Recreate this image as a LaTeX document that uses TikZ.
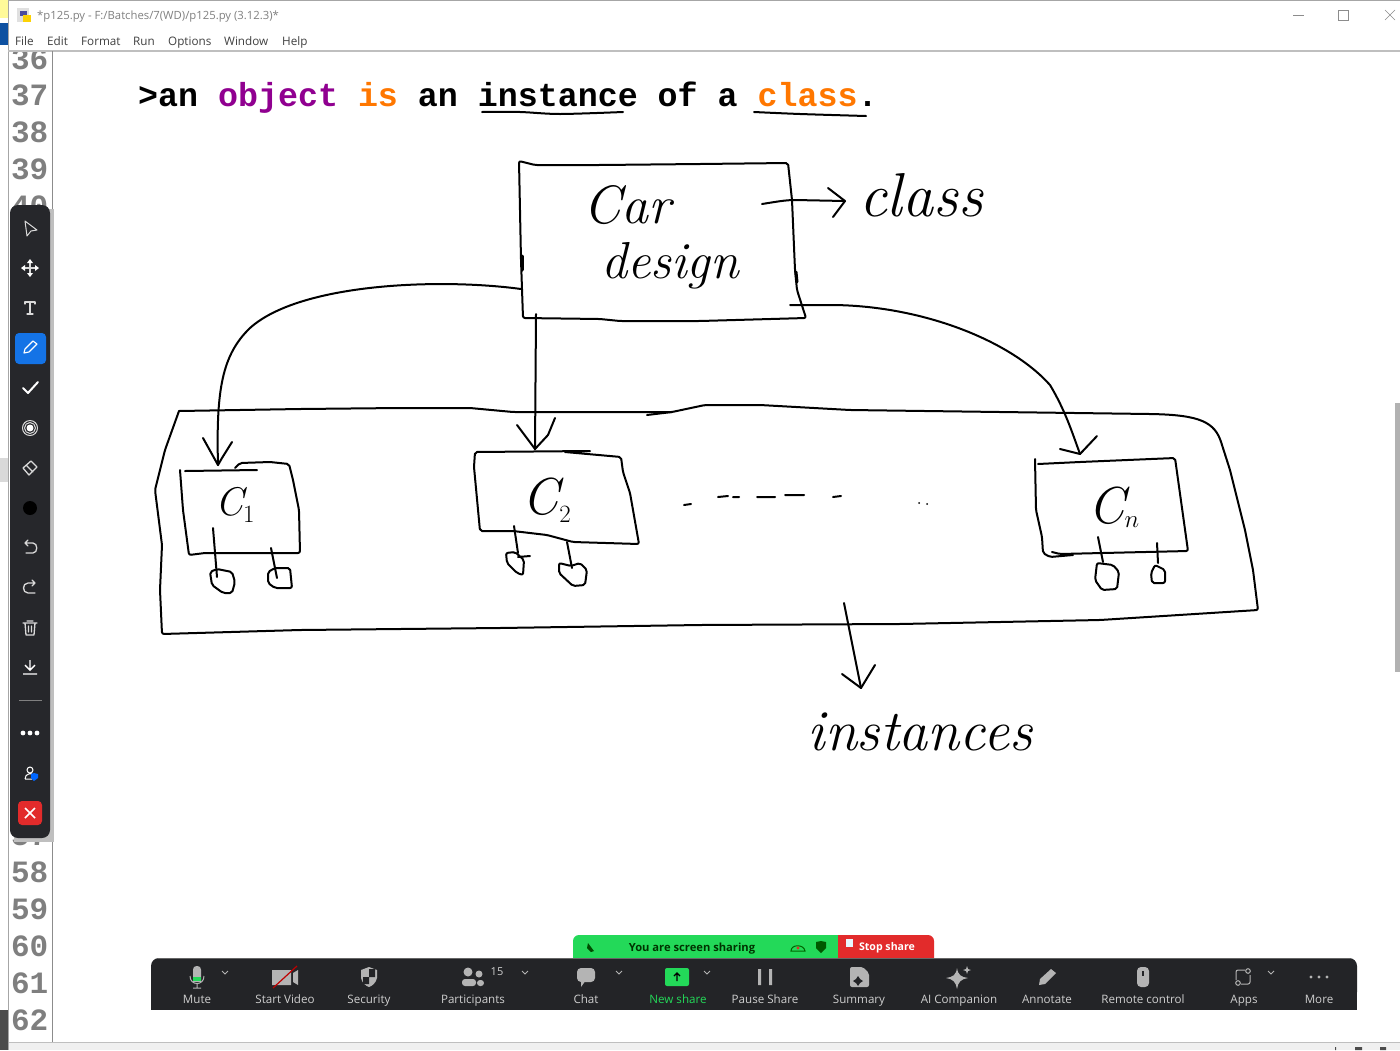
\documentclass[tikz,border=0pt]{standalone}
\usepackage{fontspec}
\setmainfont{Open Sans}
\newfontfamily\monofnt{Liberation Mono}
\newfontfamily\handfnt{Latin Modern Roman}
\definecolor{barbg}{HTML}{232427}
\definecolor{sidebg}{HTML}{26272B}
\definecolor{barfg}{HTML}{B4B4B4}
\definecolor{lblfg}{HTML}{CFCFCF}
\definecolor{shgreen}{HTML}{23D959}
\definecolor{shred}{HTML}{E22B2B}
\definecolor{blue1}{HTML}{1473E6}
\definecolor{kwpurple}{HTML}{900090}
\definecolor{kworange}{HTML}{FF7700}
\definecolor{numgray}{HTML}{7F7F7F}
\tikzset{
  ink/.style={line width=2pt,black,line join=round,line cap=round},
  inkbox/.style={ink,rounded corners=2pt},
  ghead/.style={ink,sharp corners},
  handlbl/.style={inner sep=0pt,font=\handfnt\itshape},
  lnum/.style={anchor=base east,inner sep=0pt,font=\monofnt\bfseries\fontsize{31}{31}\selectfont,text=numgray},
  menu/.style={anchor=base west,inner sep=0pt,font=\fontsize{11.7}{12}\selectfont,text=black!75},
  barlbl/.style={anchor=base,inner sep=0pt,font=\fontsize{11.6}{12}\selectfont,text=lblfg},
  sideic/.style={draw=white!85!black,line width=1.3pt,line join=round,line cap=round},
  baric/.style={fill=barfg,draw=none},
  chev/.style={draw=barfg,line width=1pt},
}
\begin{document}
\begin{tikzpicture}[x=1pt,y=-1pt]
\useasboundingbox (0,0) rectangle (1400,1050);
\fill[white] (0,0) rectangle (1400,1050);
% window surroundings
\fill[yellow!40!white] (0,0) rectangle (8,18);
\fill[blue1!70!black] (0,23) rectangle (8,45);
\fill[black!15] (0,458) rectangle (8,482);
\fill[black!70] (0,1010) rectangle (8,1050);
\draw[black!35] (8,0) -- (8,1050);
\draw[black!35] (8,0.5) -- (1400,0.5);
\draw[black!25,line width=1.5pt] (8,51) -- (1400,51);
\draw[black!45] (52,51) -- (52,1050);
\fill[black!6] (9,1042) rectangle (1400,1050);
\draw[black!25] (9,1042) -- (1400,1042);
\fill[black!30] (1395,403) rectangle (1400,672);
\fill[black!70] (1335,1047) rectangle (1336,1050) (1355,1047) rectangle (1362,1050) (1380,1047) rectangle (1386,1050);
% title bar icon
\fill[black!12] (17,8) rectangle (29,22);
\fill[blue!45!black!70] (20,11) rectangle (27,16);
\fill[yellow!70!orange] (23,15) rectangle (31,22);
\node[anchor=base west,inner sep=0pt,font=\fontsize{11.3}{12}\selectfont,text=black!50] (title) at (37,19) {*p125.py - F:/Batches/7(WD)/p125.py (3.12.3)*};
\node[menu] (mfile) at (15,45) {File};
\node[menu] (medit) at (47,45) {Edit};
\node[menu] (mformat) at (81,45) {Format};
\node[menu] (mrun) at (133,45) {Run};
\node[menu] (moptions) at (168,45) {Options};
\node[menu] (mwindow) at (224,45) {Window};
\node[menu] (mhelp) at (282,45) {Help};
\draw[black!45] (1293,15) -- (1304,15);
\draw[black!45] (1338,10) rectangle (1348,20);
\draw[black!45] (1385,10) -- (1395,20) (1395,10) -- (1385,20);
% line numbers
\begin{scope}
\clip (9,52) rectangle (52,1042);
\node[lnum] (n36) at (48.5,69) {36};
\node[lnum] (n37) at (48.5,105) {37};
\node[lnum] (n38) at (48.5,142) {38};
\node[lnum] (n39) at (48.5,179) {39};
\node[lnum] (n40) at (48.5,216) {40};
\node[lnum] (n57) at (48.5,845) {57};
\node[lnum] (n58) at (48.5,882) {58};
\node[lnum] (n59) at (48.5,919) {59};
\node[lnum] (n60) at (48.5,956) {60};
\node[lnum] (n61) at (48.5,993) {61};
\node[lnum] (n62) at (48.5,1030) {62};
\end{scope}
% code line
\node[anchor=base west,inner sep=0pt,font=\monofnt\bfseries\fontsize{33.3}{34}\selectfont] (code) at (138,106)
 {>an \textcolor{kwpurple}{object} \textcolor{kworange}{is} an instance of a \textcolor{kworange}{class}.};
\draw[ink] plot[smooth,tension=.5] coordinates {(482,112) (520,112) (560,114) (623,112)};
\draw[ink] plot[smooth,tension=.5] coordinates {(754,112) (800,114) (866,116)};

% ---- class box
\draw[inkbox] (519,161) -- (535,165) -- (600,165) -- (700,164) -- (788,163) -- (792,200) -- (795,270) -- (797,290) -- (806,318) -- (700,321) -- (620,321) -- (600,319) -- (523,318) -- (521,260) -- cycle;
\draw[ink,line width=3pt] (522,256) -- (522,270);
\draw[ink,line width=3pt] (796,272) -- (797,282);
\node[handlbl,font=\handfnt\itshape\fontsize{54}{54}\selectfont] (car) at (627,205) {Car};
\node[handlbl,font=\handfnt\itshape\fontsize{52}{52}\selectfont] (design) at (670,266) {design};
\node[handlbl,font=\handfnt\itshape\fontsize{62}{62}\selectfont] (classlbl) at (921,195) {class};
\coordinate (clsS) at (762,204);
\coordinate (clsT) at (845,201);
\draw[ink] (clsS) .. controls (775,202) and (785,200) .. (795,200) -- (clsT);
\draw[ghead] (828,188) -- (clsT) -- (833,217);

% ---- container
\draw[inkbox] (179,411) -- (300,409) -- (400,408) -- (470,408) -- (513,412) -- (672,412);
\draw[inkbox] (647,415) -- (672,412) -- (705,405) -- (760,405) -- (850,410) -- (1000,412) -- (1150,414) .. controls (1200,415) and (1215,422) .. (1222,445) -- (1230,470) -- (1245,530) -- (1253,570) -- (1258,610) -- (1100,620) -- (900,624) -- (700,625) -- (500,628) -- (300,630) -- (162,634) -- (160,590) -- (162,545) -- (155,490) -- (165,450) -- (179,411);

% ---- instance C1
\draw[inkbox] (180,470) -- (183,510) -- (189,555) -- (205,553) -- (300,553) -- (299,510) -- (293,480) -- (289,464) -- (270,462) -- (240,463) -- (235,468);
\draw[ink] (185,471) -- (257,470);
\node[handlbl,font=\handfnt\itshape\fontsize{40}{40}\selectfont] (c1) at (235,505) {C$_1$};
\coordinate (c1T) at (218,465);
% ---- instance C2
\draw[inkbox] (590,451) -- (475,452) -- (474,467) -- (480,531) -- (513,531) -- (547,535) -- (573,542) -- (639,544) -- (630,493) -- (623,472) -- (621,457) -- (565,452);
\node[handlbl,font=\handfnt\itshape\fontsize{52}{52}\selectfont] (c2) at (547,500) {C$_2$};
\coordinate (c2T) at (535,449);
% ---- instance Cn
\draw[inkbox] (1035,459) -- (1036,510) -- (1042,537) -- (1043,553) -- (1050,557) -- (1073,555);
\draw[inkbox] (1052,552) -- (1060,554) -- (1188,551) -- (1175,458) -- (1080,462) -- (1038,464);
\node[handlbl,font=\handfnt\itshape\fontsize{52}{52}\selectfont] (cn) at (1114,507) {C$_n$};
\coordinate (cnT) at (1080,454);

% ---- connectors class -> instances
\coordinate (carL) at (521,289);
\coordinate (carB) at (536,314);
\coordinate (carR) at (790,305);
\draw[ink] (carL) .. controls (440,278) and (300,283) .. (250,328) .. controls (222,355) and (216,390) .. (c1T);
\draw[ghead] (203,438) -- (c1T) -- (222,458) -- (232,442);
\draw[ink] (carB) -- (c2T);
\draw[ghead] (517,425) -- (c2T) -- (548,435) -- (555,418);
\draw[ink] (carR) -- (830,305) .. controls (920,305) and (1010,340) .. (1050,385) .. controls (1065,410) and (1072,432) .. (cnT);
\draw[ghead] (1060,449) -- (cnT) -- (1097,436);

% ---- member stubs and circles
\draw[ink] (213,528) -- (217,577);
\draw[inkbox] (210,572) -- (217,569) -- (232,572) -- (235,582) -- (232,593) -- (223,593) -- (212,585) -- cycle;
\draw[ink] (271,548) -- (277,578);
\draw[inkbox] (268,572) -- (275,568) -- (290,568) -- (292,588) -- (275,588) -- (268,583) -- cycle;
\draw[ink] (514,526) -- (518,553) (530,556) -- (518,557);
\draw[inkbox] (506,553) -- (515,552) -- (524,560) -- (523,575) -- (517,573) -- (507,563) -- cycle;
\draw[ink] (567,542) -- (572,568);
\draw[inkbox] (559,563) -- (571,566) -- (580,563) -- (587,570) -- (585,585) -- (573,586) -- (559,573) -- cycle;
\draw[ink] (1098,537) -- (1103,562);
\draw[inkbox] (1097,563) -- (1113,565) -- (1119,572) -- (1117,589) -- (1102,590) -- (1095,580) -- cycle;
\draw[ink] (1157,543) -- (1158,563);
\draw[inkbox] (1155,565) -- (1165,570) -- (1165,583) -- (1152,583) -- (1151,573) -- cycle;

% ---- dashes
\draw[ink] (684,505) -- (691,504) (718,497) -- (728,496) (733,497) -- (739,497) (757,497) -- (775,497) (785,495) -- (804,495) (833,497) -- (841,496);
\fill (919,503) circle[radius=1] (927,504) circle[radius=1];

% ---- instances arrow
\coordinate (instS) at (844,603);
\coordinate (instT) at (861,688);
\draw[ink] (instS) -- (instT);
\draw[ghead] (842,674) -- (instT) -- (875,665);
\node[handlbl,font=\handfnt\itshape\fontsize{58}{58}\selectfont] (instlbl) at (920,732) {instances};

% ---- side toolbar
\fill[black!25] (14,209) rectangle (54,842);
\fill[sidebg,rounded corners=8pt] (10,205) rectangle (50,838);
\draw[sideic,line width=1pt] (25,221) -- (37,230) -- (31,231) -- (27,236) -- cycle;
\draw[sideic,line width=2pt] (23,268) -- (37,268) (30,261) -- (30,275);
\fill[white] (30,259) -- (27,263) -- (33,263) -- cycle (30,277) -- (27,273) -- (33,273) -- cycle (21,268) -- (25,265) -- (25,271) -- cycle (39,268) -- (35,265) -- (35,271) -- cycle;
\draw[sideic] (25,304) -- (25,302) -- (35,302) -- (35,304) (30,302) -- (30,314) (27,314) -- (33,314);
\fill[blue1,rounded corners=4pt] (15,333) rectangle (46,364);
\draw[white,line width=1.1pt,line join=round] (24,353) -- (25,349) -- (33,341) -- (37,344) -- (29,352) -- cycle;
\draw[white,line width=2pt,line cap=round,line join=round] (23,388) -- (28,393) -- (38,382);
\draw[sideic,line width=1pt] (30,428) circle[radius=7.5];
\draw[sideic,line width=1pt] (30,428) circle[radius=5.5];
\fill[white] (30,428) circle[radius=3.5];
\draw[sideic] (23,468) -- (31,461) -- (37,467) -- (29,475) -- cycle (26,465) -- (33,472);
\fill[black] (30,508) circle[radius=7];
\draw[sideic] (25,543) -- (33,543) .. controls (38,543) and (38,553) .. (33,553) -- (26,553) (28,540) -- (25,543) -- (28,546);
\draw[sideic] (35,583) -- (28,583) .. controls (22,583) and (22,593) .. (28,593) -- (35,593) (32,580) -- (35,583) -- (32,586);
\draw[sideic] (23,623) -- (37,623) (27,621) -- (33,621) (25,623) -- (26,635) -- (34,635) -- (35,623) (28.5,626) -- (28.5,632) (31.5,626) -- (31.5,632);
\draw[white,line width=1.4pt] (23,674) -- (37,674) (30,660) -- (30,670) (25,665) -- (30,670) -- (35,665);
\draw[black!50] (19,700) -- (42,700);
\fill[white] (23,733) circle[radius=2.4] (30,733) circle[radius=2.4] (37,733) circle[radius=2.4];
\draw[white,line width=1pt] (30,770) circle[radius=3] (25,779) .. controls (25,773) and (32,773) .. (33,775) (25,779) -- (32,779);
\fill[blue!60!cyan] (34,773) -- (38,774) -- (38,778) -- (34,781) -- (31,778) -- (31,774) -- cycle;
\fill[shred,rounded corners=4pt] (18,801) rectangle (42,825);
\draw[white,line width=1.5pt] (25,808) -- (35,818) (35,808) -- (25,818);

% ---- share banner and bottom bar
\fill[shgreen,rounded corners=6pt] (573,935) rectangle (610,975);
\fill[shgreen] (590,935) rectangle (838,958);
\fill[shred,rounded corners=6pt] (900,935) rectangle (934,975);
\fill[shred] (838,935) rectangle (920,958);
\fill[barbg,rounded corners=8pt] (151,958) rectangle (1357,1000);
\fill[barbg] (151,975) rectangle (1357,1010);
\draw[black!60] (158,958) -- (1350,958);
\node[anchor=base,inner sep=0pt,font=\fontsize{11.2}{12}\selectfont\bfseries,text=black!80!green] (sharing) at (692,951) {You are screen sharing};
\node[anchor=base,inner sep=0pt,font=\fontsize{10.6}{12}\selectfont\bfseries,text=white] (stopshare) at (887,950) {Stop share};
\fill[white!90!cyan] (846,939) rectangle (853,947);
\fill[black!70!green] (588,943) -- (591,947) -- (594,951) -- (591,952) -- (587,948) -- cycle;
\draw[black!60!green,line width=1pt] (791,951) .. controls (791,944) and (804,944) .. (805,951) -- cycle;
\fill[shred] (798,948) circle[radius=1.6];
\fill[black!65!green] (816,942) -- (821,941) -- (826,942) -- (826,948) -- (821,953) -- (816,948) -- cycle;
\node[barlbl] (lmute) at (197,1003) {Mute};
\node[barlbl] (lvideo) at (285,1003) {Start Video};
\node[barlbl] (lsec) at (369,1003) {Security};
\node[barlbl] (lpart) at (473,1003) {Participants};
\node[barlbl,font=\fontsize{11}{12}\selectfont] (lfifteen) at (497,975) {15};
\node[barlbl] (lchat) at (586,1003) {Chat};
\node[barlbl,text=shgreen] (lnew) at (678,1003) {New share};
\node[barlbl] (lpause) at (765,1003) {Pause Share};
\node[barlbl] (lsum) at (859,1003) {Summary};
\node[barlbl] (lai) at (959,1003) {AI Companion};
\node[barlbl] (lann) at (1047,1003) {Annotate};
\node[barlbl] (lrem) at (1143,1003) {Remote control};
\node[barlbl] (lapps) at (1244,1003) {Apps};
\node[barlbl] (lmore) at (1319,1003) {More};
% chevrons
\foreach \cx in {225,525,619,707,1271}
  \draw[chev] (\cx-3,971) -- (\cx,974) -- (\cx+3,971);
% mic
\fill[barfg,rounded corners=3.5pt] (193,966) rectangle (201,985);
\fill[barbg] (190,982) rectangle (204,990);
\fill[shgreen] (193,977) rectangle (201,981);
\draw[barfg,line width=1pt] (190,976) .. controls (190,986) and (204,986) .. (204,976) (197,984) -- (197,988) (193,988) -- (201,988);
% video
\fill[barfg] (272,970) rectangle (291,985) (293,973) -- (298,970) -- (298,985) -- (293,982) -- cycle;
\draw[red!75!black,line width=1.2pt] (273,988) -- (297,966);
% shield
\fill[barfg] (369,967) -- (377,970) -- (377,978) .. controls (376,983) and (372,986) .. (369,987) .. controls (366,986) and (362,983) .. (361,978) -- (361,970) -- cycle;
\fill[barbg] (369,969) rectangle (375,977) (363,977) rectangle (369,984);
% participants
\fill[barfg] (468,972) circle[radius=4.5] (479,974) circle[radius=3.5];
\fill[barfg,rounded corners=3pt] (462,979) rectangle (476,986) (477,980) rectangle (484,986);
% chat
\fill[barfg,rounded corners=4pt] (577,968) rectangle (595,982);
\fill[barfg] (581,980) -- (586,980) -- (581,987) -- cycle;
% new share
\fill[shgreen,rounded corners=2pt] (665,968) rectangle (689,986);
\draw[black,line width=1.3pt] (677,981) -- (677,973) (674,976) -- (677,973) -- (680,976);
% pause
\fill[barfg] (758,969) rectangle (761,985) (769,969) rectangle (772,985);
% summary doc
\fill[barfg,rounded corners=2pt] (850,967) -- (863,967) -- (869,973) -- (869,987) -- (850,987) -- cycle;
\fill[barbg] (858,976) -- (860,979) -- (863,981) -- (860,983) -- (858,986) -- (856,983) -- (853,981) -- (856,979) -- cycle;
% AI
\fill[barfg] (957,968) .. controls (958,975) and (961,977) .. (968,978) .. controls (961,979) and (958,982) .. (957,989) .. controls (956,982) and (953,979) .. (946,978) .. controls (953,977) and (956,975) .. cycle;
\fill[barfg] (967,966) -- (968,969) -- (971,970) -- (968,971) -- (967,974) -- (966,971) -- (963,970) -- (966,969) -- cycle;
% annotate pencil
\fill[barfg] (1039,985) -- (1040,979) -- (1051,969) -- (1056,973) -- (1045,984) -- cycle;
% mouse
\fill[barfg,rounded corners=4pt] (1137,967) rectangle (1149,987);
\fill[barbg] (1142,971) rectangle (1144,976);
% apps
\draw[barfg,line width=1pt,rounded corners=2pt] (1236,980) -- (1236,970) -- (1245,970) (1250,975) -- (1250,984) -- (1241,984);
\draw[barfg,line width=1pt] (1248,971) circle[radius=2.3] (1238,983) circle[radius=2.3];
% more
\fill[barfg] (1311,977) circle[radius=1.6] (1319,977) circle[radius=1.6] (1327,977) circle[radius=1.6];
\end{tikzpicture}
\end{document}
